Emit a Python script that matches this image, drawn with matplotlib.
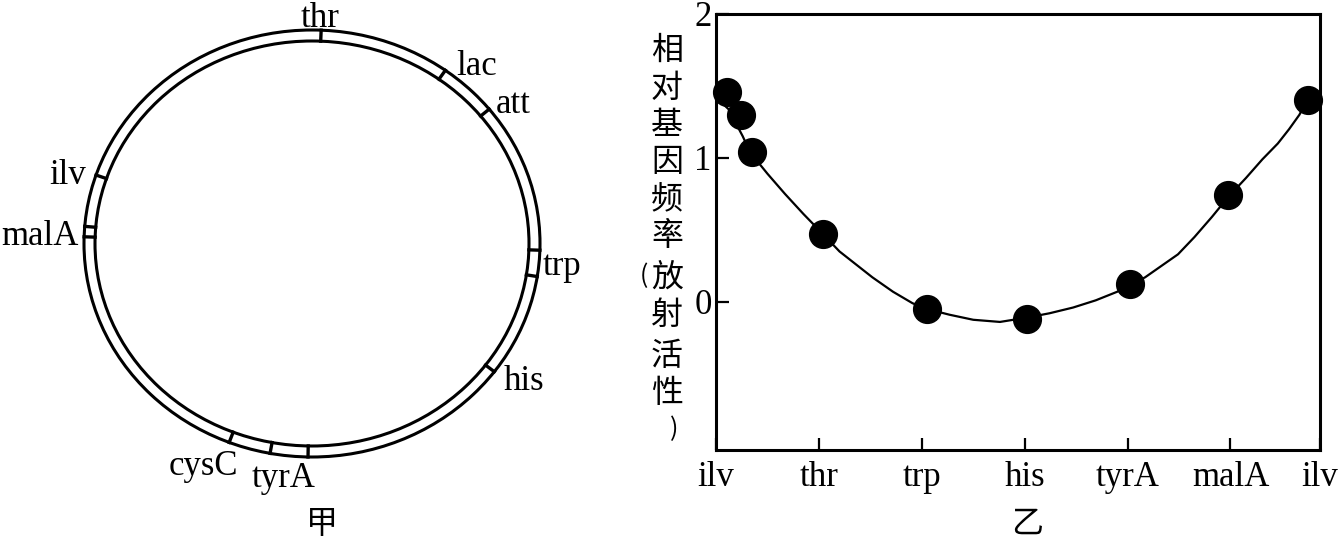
import matplotlib.pyplot as plt
from matplotlib.patches import Ellipse
import numpy as np

plt.rcParams['font.family'] = ['Liberation Serif', 'Noto Sans CJK SC']

# 甲: gene map on the ring, tick angles in degrees (0 = right, counter-clockwise)
tick_angles = [87.7, 54.2, 39.0, -1.8, -8.9, -36.9, -91.0, -100.6, -111.3, 175.4, 178.2, 161.3]
gene_names = ["thr", "lac", "att", "trp", "his", "tyrA", "cysC", "malA", "ilv"]

# 乙: relative gene frequency along the map
order_labels = ["ilv", "thr", "trp", "his", "tyrA", "malA", "ilv"]
order_pos = [0, 1, 2, 3, 4, 5, 5.87]
freq_x = [0.11, 0.24, 0.35, 1.04, 2.05, 3.02, 4.02, 4.98, 5.75]
freq_y = [1.46, 1.30, 1.04, 0.47, -0.05, -0.12, 0.125, 0.74, 1.40]
curve_x = [0.0, 0.12, 0.26, 0.33, 0.50, 0.67, 0.85, 1.04, 1.20, 1.36, 1.52, 1.72,
           1.91, 2.05, 2.27, 2.50, 2.76, 3.02, 3.24, 3.47, 3.69, 3.90, 4.02, 4.17,
           4.31, 4.49, 4.65, 4.82, 4.98, 5.15, 5.31, 5.46, 5.57, 5.67, 5.75]
curve_y = [1.42, 1.34, 1.15, 1.04, 0.89, 0.75, 0.61, 0.47, 0.35, 0.26, 0.17, 0.07,
           -0.01, -0.05, -0.09, -0.125, -0.14, -0.11, -0.08, -0.04, 0.01, 0.07, 0.115, 0.17,
           0.24, 0.33, 0.45, 0.59, 0.73, 0.86, 0.99, 1.10, 1.20, 1.30, 1.41]

W, H = 1339, 545
fig = plt.figure(figsize=(W / 100, H / 100), dpi=100)

# ---- left: ring (pixel coords, y down)
ax1 = fig.add_axes([0, 0, 660 / W, 1])
ax1.set_xlim(0, 660)
ax1.set_ylim(H, 0)
ax1.axis('off')

cx, cy = 312, 243.5
r_out = (228, 213.5)
r_in = (217, 202.5)
for rx, ry in (r_out, r_in):
    ax1.add_patch(Ellipse((cx, cy), 2 * rx, 2 * ry, fill=False, lw=2.2, ec='black'))
for a in tick_angles:
    t = np.radians(a)
    xs = [cx + r_in[0] * np.cos(t), cx + r_out[0] * np.cos(t)]
    ys = [cy - r_in[1] * np.sin(t), cy - r_out[1] * np.sin(t)]
    ax1.plot(xs, ys, color='black', lw=2.4)

label_pos = {
    "thr": (320, 27, 'center'),
    "lac": (456, 75, 'left'),
    "att": (496, 113, 'left'),
    "trp": (543, 275, 'left'),
    "his": (504, 390, 'left'),
    "tyrA": (252, 487, 'left'),
    "cysC": (238, 475, 'right'),
    "malA": (79, 245, 'right'),
    "ilv": (86, 184, 'right'),
}
for g in gene_names:
    x, y, ha = label_pos[g]
    ax1.text(x, y, g, ha=ha, va='baseline', fontsize=25)
ax1.text(322, 524, "甲", ha='center', va='center', fontsize=23,
         family=['Noto Sans CJK SC'])

# ---- right: frequency curve
ax2 = fig.add_axes([716 / W, 1 - 450 / H, (1320 - 716) / W, (450 - 14) / H])
ax2.plot(curve_x, curve_y, color='black', lw=1.6, solid_joinstyle='round')
ax2.plot(freq_x, freq_y, 'o', color='black', ms=20, clip_on=False)
ax2.set_xlim(0, 5.87)
ax2.set_ylim(-1.03, 2.0)
ax2.set_xticks(order_pos)
ax2.set_xticklabels(order_labels)
ax2.set_yticks([0, 1, 2])
ax2.tick_params(direction='in', length=9, width=1.6, labelsize=25)
ax2.tick_params(axis='x', pad=8)
ax2.tick_params(axis='y', pad=3)
for s in ax2.spines.values():
    s.set_linewidth(2.2)

ylabel_rows = ['相', '对', '基', '因', '频', '率', '放', '射', '活', '性']
row_y = [51, 88, 125, 162, 200, 236, 278, 315, 356, 393]
for ch, y in zip(ylabel_rows, row_y):
    fig.text(667 / W, 1 - y / H, ch, ha='center', va='center', fontsize=23,
             family=['Noto Sans CJK SC'])
fig.text(644 / W, 1 - 276 / H, '(', ha='center', va='center', fontsize=18,
         family=['Noto Sans CJK SC'])
fig.text(674 / W, 1 - 429 / H, ')', ha='center', va='center', fontsize=18,
         family=['Noto Sans CJK SC'])

fig.text(1027 / W, 1 - 524 / H, "乙", ha='center', va='center', fontsize=23,
         family=['Noto Sans CJK SC'])

fig.savefig('out.png', dpi=100)
